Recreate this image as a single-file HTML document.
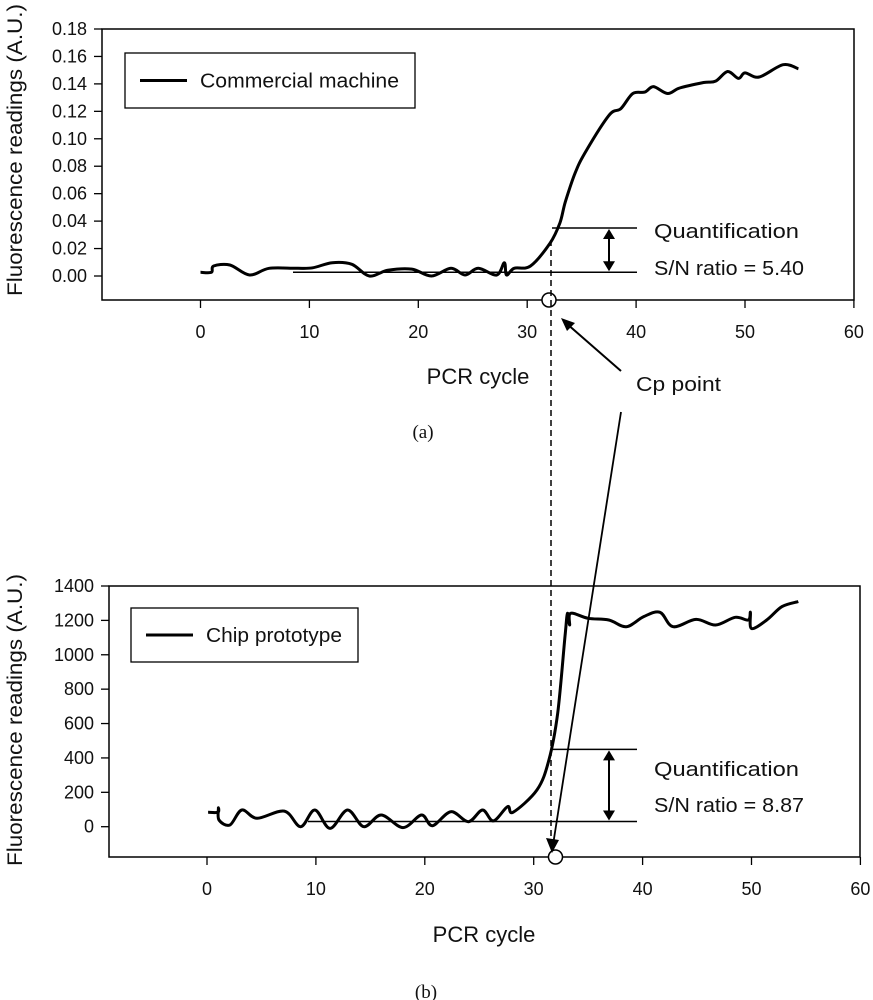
<!DOCTYPE html>
<html><head><meta charset="utf-8"><style>
html,body{margin:0;padding:0;background:#fff;}
svg{display:block;font-family:"Liberation Sans",Arial,sans-serif;}
</style></head><body>
<svg id="fig" width="873" height="1000" viewBox="0 0 873 1000">
<g id="top"></g>
<g id="bot"></g>
<g id="ann"></g>
</svg>
<script>
const NS="http://www.w3.org/2000/svg";
// ---- data: chart (a) commercial machine ----
const xTicks=[0,10,20,30,40,50,60];
const topYTicks=[0,0.02,0.04,0.06,0.08,0.10,0.12,0.14,0.16,0.18];
const topYLabels=["0.00","0.02","0.04","0.06","0.08","0.10","0.12","0.14","0.16","0.18"];
const topCycles=[0,1.0,1.2,2.7,4.5,6.3,8.8,10.3,12.1,13.9,15.5,17.2,19.4,21.2,23.0,24.3,25.5,27.2,27.9,28.1,28.8,30.3,32.1,33.0,33.5,34.4,35.3,37.5,38.6,39.7,40.8,41.6,42.9,44.0,46.2,47.3,48.4,49.4,50.0,51.3,53.5,54.9];
const topValues=[0.0027,0.0027,0.0073,0.008,0.0007,0.0056,0.0056,0.006,0.0097,0.0085,0,0.0042,0.005,0,0.0056,0.0007,0.0056,0.0007,0.0097,0.0007,0.0056,0.0073,0.024,0.0386,0.054,0.075,0.0896,0.117,0.122,0.133,0.134,0.138,0.133,0.137,0.141,0.142,0.149,0.144,0.148,0.145,0.154,0.151];
// ---- data: chart (b) chip prototype ----
const botYTicks=[0,200,400,600,800,1000,1200,1400];
const botYLabels=["0","200","400","600","800","1000","1200","1400"];
const botCycles=[0.1,1.0,1.05,1.1,2.1,3.2,4.6,7.1,8.6,9.9,11.3,12.9,14.4,16.0,18.0,19.7,20.7,22.4,24.0,25.3,26.3,27.6,28.1,30.3,31.4,32.2,32.9,33.1,33.3,33.4,35.0,36.9,38.5,40.1,41.6,42.8,44.9,46.7,48.5,49.7,49.9,50.0,51.4,52.8,54.3];
const botValues=[84,84,109,39,10,97,49,91,0,97,-10,97,0,68,-5,68,6,87,29,97,34,117,84,214,388,660,1125,1241,1173,1241,1212,1202,1163,1222,1247,1163,1206,1173,1218,1202,1247,1153,1202,1280,1309];
const topQuant=[0.0027,0.035], botQuant=[30,450], cpCycle=32.0;

function mk(tag,attrs,parent,txt){const e=document.createElementNS(NS,tag);for(const k in attrs)e.setAttribute(k,attrs[k]);if(txt!==undefined)e.textContent=txt;parent.appendChild(e);return e;}

function smoothPath(pts){
  let d='M'+pts[0][0].toFixed(1)+' '+pts[0][1].toFixed(1);
  for(let i=0;i<pts.length-1;i++){
    const p0=pts[Math.max(0,i-1)],p1=pts[i],p2=pts[i+1],p3=pts[Math.min(pts.length-1,i+2)];
    const t=1/6;
    const c1=[p1[0]+(p2[0]-p0[0])*t,p1[1]+(p2[1]-p0[1])*t];
    const c2=[p2[0]-(p3[0]-p1[0])*t,p2[1]-(p3[1]-p1[1])*t];
    d+=` C${c1[0].toFixed(1)} ${c1[1].toFixed(1)} ${c2[0].toFixed(1)} ${c2[1].toFixed(1)} ${p2[0].toFixed(1)} ${p2[1].toFixed(1)}`;
  }
  return d;
}

function drawChart(g,cfg){
  const sx=v=>cfg.x0+v*cfg.xs;
  const sy=v=>cfg.y0-(v/cfg.yMax)*(cfg.y0-cfg.yTop);
  let e=mk('rect',{x:cfg.L,y:cfg.T,width:cfg.R-cfg.L,height:cfg.B-cfg.T,fill:'none',stroke:'#000','stroke-width':1.5},g);
  
  cfg.yTicks.forEach((v,i)=>{
    const y=sy(v);
    let t=mk('line',{x1:cfg.L-8,x2:cfg.L,y1:y,y2:y,stroke:'#000','stroke-width':1.3},g);
    
    let l=mk('text',{x:cfg.L-15,y:y+6,'text-anchor':'end','font-size':18,fill:'#111'},g,cfg.yLabels[i]);
    
  });
  xTicks.forEach(v=>{
    const x=sx(v);
    let t=mk('line',{x1:x,x2:x,y1:cfg.B,y2:cfg.B+8,stroke:'#000','stroke-width':1.3},g);
    
    let l=mk('text',{x:x,y:cfg.B+38,'text-anchor':'middle','font-size':18,fill:'#111'},g,String(v));
    
  });
  const pts=cfg.cx.map((c,i)=>[sx(c),sy(cfg.vals[i])]);
  let p=mk('path',{d:smoothPath(pts),fill:'none',stroke:'#000','stroke-width':3,'stroke-linejoin':'round'},g);
  
  const qy1=sy(cfg.q[1]), qy0=sy(cfg.q[0]);
  let q1=mk('line',{x1:552,x2:637,y1:qy1,y2:qy1,stroke:'#000','stroke-width':1.5},g);
  
  let q0=mk('line',{x1:cfg.baseX,x2:637,y1:qy0,y2:qy0,stroke:'#000','stroke-width':1.5},g);
  
  let a=mk('line',{x1:609,x2:609,y1:qy1+8,y2:qy0-8,stroke:'#000','stroke-width':2},g);
  
  mk('path',{d:`M603 ${qy1+11} L609 ${qy1+1} L615 ${qy1+11} Z M603 ${qy0-11} L609 ${qy0-1} L615 ${qy0-11} Z`,fill:'#000'},g);
  let t1=mk('text',{x:654,y:cfg.qt1,'font-size':20,fill:'#111',textLength:145,lengthAdjust:'spacingAndGlyphs'},g,'Quantification');
  
  let t2=mk('text',{x:654,y:cfg.qt2,'font-size':20,fill:'#111',textLength:cfg.snW,lengthAdjust:'spacingAndGlyphs'},g,cfg.sn);
  
  let lb=mk('rect',{x:cfg.lg[0],y:cfg.lg[1],width:cfg.lg[2],height:cfg.lg[3],fill:'#fff',stroke:'#000','stroke-width':1.3},g);
  
  mk('line',{x1:cfg.lg[0]+15,x2:cfg.lg[0]+62,y1:cfg.lg[1]+cfg.lg[3]/2,y2:cfg.lg[1]+cfg.lg[3]/2,stroke:'#000','stroke-width':3},g);
  let lt=mk('text',{x:cfg.lg[0]+75,y:cfg.lg[1]+cfg.lg[3]/2+7,'font-size':20,fill:'#111',textLength:cfg.lgW,lengthAdjust:'spacingAndGlyphs'},g,cfg.legend);
  
  let yt=mk('text',{x:0,y:0,'font-size':21,fill:'#111','text-anchor':'middle',transform:`translate(22 ${cfg.ytc}) rotate(-90)`,textLength:292,lengthAdjust:'spacingAndGlyphs'},g,'Fluorescence readings (A.U.)');
  
  let xt=mk('text',{x:cfg.xtx,y:cfg.xty,'font-size':22,fill:'#111','text-anchor':'middle'},g,'PCR cycle');
  
  let c=mk('circle',{cx:sx(cpCycle),cy:cfg.B,r:7,fill:'#fff',stroke:'#000','stroke-width':1.5},g);
  
}
drawChart(document.getElementById('top'),{L:102,R:854,T:29,B:300,x0:200.5,xs:10.89,y0:276,yTop:29,yMax:0.18,
  yTicks:topYTicks,yLabels:topYLabels,cx:topCycles,vals:topValues,q:topQuant,baseX:293,qt1:238,qt2:275,sn:'S/N ratio = 5.40',snW:150,
  lg:[125,53,290,55],legend:'Commercial machine',lgW:199,ytc:150,xtx:478,xty:384});
drawChart(document.getElementById('bot'),{L:109,R:860,T:586,B:857,x0:207,xs:10.89,y0:826.7,yTop:586,yMax:1400,
  yTicks:botYTicks,yLabels:botYLabels,cx:botCycles,vals:botValues,q:botQuant,baseX:308,qt1:776,qt2:812,sn:'S/N ratio = 8.87',snW:150,
  lg:[131,608,227,54],legend:'Chip prototype',lgW:136,ytc:720,xtx:484,xty:942});
const ann=document.getElementById('ann');
let dl=mk('line',{x1:551,x2:551,y1:240,y2:849,stroke:'#000','stroke-width':1.5,'stroke-dasharray':'6 4'},ann);

let ar1=mk('line',{x1:621,y1:371,x2:566,y2:323,stroke:'#000','stroke-width':2},ann);

mk('path',{d:'M561 318 L575 323 L567 331 Z',fill:'#000'},ann);
let ar2=mk('line',{x1:621,y1:412,x2:553,y2:845,stroke:'#000','stroke-width':1.8},ann);

mk('path',{d:'M552 853 L546 838 L559 840 Z',fill:'#000'},ann);
let cp=mk('text',{x:636,y:391,'font-size':20,fill:'#111',textLength:85,lengthAdjust:'spacingAndGlyphs'},ann,'Cp point');

let la=mk('text',{x:423,y:438,'font-size':19,fill:'#111','text-anchor':'middle','font-family':'Liberation Serif, serif'},ann,'(a)');

let lbb=mk('text',{x:426,y:998,'font-size':19,fill:'#111','text-anchor':'middle','font-family':'Liberation Serif, serif'},ann,'(b)');

</script>
</body></html>
